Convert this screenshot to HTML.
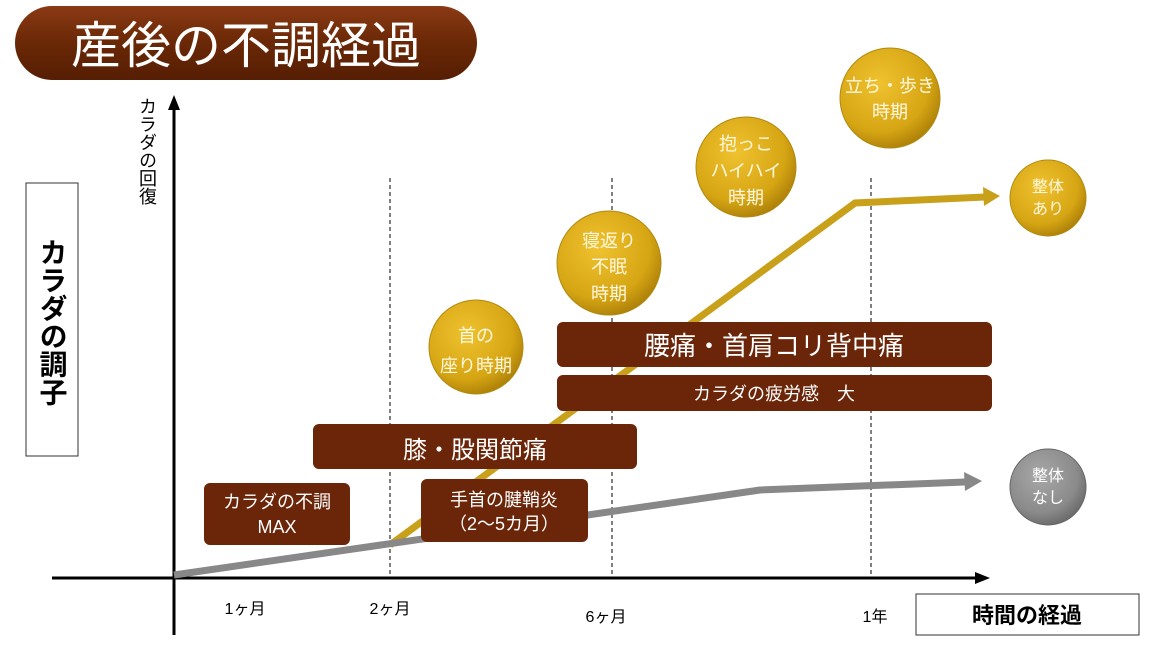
<!DOCTYPE html>
<html><head><meta charset="utf-8"><style>
body{margin:0;background:#fff}
svg text{font-family:"Liberation Sans","Noto Sans CJK JP",sans-serif}
</style></head><body>
<svg width="1152" height="648" viewBox="0 0 1152 648" xmlns="http://www.w3.org/2000/svg">
<defs>
<radialGradient id="g" cx="40%" cy="35%" r="70%"><stop offset="0" stop-color="#f0c230"/><stop offset="0.7" stop-color="#d6a513"/><stop offset="1" stop-color="#a87c08"/></radialGradient>
<radialGradient id="gr" cx="40%" cy="35%" r="70%"><stop offset="0" stop-color="#a8a8a8"/><stop offset="0.7" stop-color="#8a8a8a"/><stop offset="1" stop-color="#666"/></radialGradient>
<linearGradient id="t" x1="0" y1="0" x2="0" y2="1"><stop offset="0" stop-color="#8a3a14"/><stop offset="0.5" stop-color="#6a2806"/><stop offset="1" stop-color="#561e04"/></linearGradient>
</defs>
<rect x="15" y="6" width="462" height="74" rx="37" fill="url(#t)"/>
<text x="246" y="63" font-size="50" fill="#fff" text-anchor="middle">産後の不調経過</text>

<rect x="26" y="183" width="52" height="273" fill="#fff" stroke="#333"/>
<text x="52" y="238" font-size="28" font-weight="bold" style="writing-mode:vertical-rl" fill="#000">カラダの調子</text>
<text x="147" y="97" font-size="18" style="writing-mode:vertical-rl" fill="#000">カラダの回復</text>

<g stroke="#000" stroke-dasharray="4,3" stroke-width="1">
<line x1="390" y1="178" x2="390" y2="578"/><line x1="612" y1="178" x2="612" y2="578"/><line x1="871" y1="178" x2="871" y2="578"/>
</g>
<line x1="174" y1="108" x2="174" y2="635" stroke="#000" stroke-width="3"/>
<polygon points="174,95 168,110 180,110" fill="#000"/>
<line x1="52" y1="578" x2="975" y2="578" stroke="#000" stroke-width="3"/>
<polygon points="990,578 975,572 975,584" fill="#000"/>

<polyline points="390,545 855,203 985,197" fill="none" stroke="#c9a01a" stroke-width="7"/>
<polygon points="1000,196 983,187 984,206" fill="#c9a01a"/>
<polyline points="174,575 760,490 965,482" fill="none" stroke="#888" stroke-width="7"/>
<polygon points="982,481 964,472 965,491" fill="#888"/>

<g fill="#6b2508">
<rect x="204" y="483" width="146" height="62" rx="6"/>
<rect x="313" y="424" width="324" height="45" rx="6"/>
<rect x="421" y="479" width="167" height="63" rx="6"/>
<rect x="557" y="322" width="435" height="45" rx="6"/>
<rect x="557" y="375" width="435" height="36" rx="6"/>
</g>
<g fill="#fff" text-anchor="middle">
<text x="277" y="508" font-size="18">カラダの不調</text>
<text x="277" y="533" font-size="18">MAX</text>
<text x="475" y="458" font-size="24">膝・股関節痛</text>
<text x="504" y="506" font-size="18">手首の腱鞘炎</text>
<text x="504" y="530" font-size="18">（2～5カ月）</text>
<text x="774" y="355" font-size="26">腰痛・首肩コリ背中痛</text>
<text x="774" y="400" font-size="18">カラダの疲労感　大</text>
</g>

<g stroke="#b08a10" stroke-width="1">
<circle cx="476" cy="347" r="47" fill="url(#g)"/>
<circle cx="609" cy="263" r="52" fill="url(#g)"/>
<circle cx="746" cy="167" r="50" fill="url(#g)"/>
<circle cx="890" cy="98" r="50" fill="url(#g)"/>
<circle cx="1048" cy="198" r="38" fill="url(#g)"/>
<circle cx="1048" cy="487" r="38" fill="url(#gr)" stroke="#666"/>
</g>
<g fill="#fff8e0" text-anchor="middle" font-size="18">
<text x="476" y="342">首の</text><text x="476" y="372">座り時期</text>
<text x="609" y="247">寝返り</text><text x="609" y="273">不眠</text><text x="609" y="300">時期</text>
<text x="746" y="150">抱っこ</text><text x="746" y="177">ハイハイ</text><text x="746" y="204">時期</text>
<text x="890" y="92">立ち・歩き</text><text x="890" y="118">時期</text>
<text x="1048" y="192" font-size="16">整体</text><text x="1048" y="214" font-size="16">あり</text>
<text x="1048" y="481" font-size="16" fill="#fff">整体</text><text x="1048" y="503" font-size="16" fill="#fff">なし</text>
</g>

<g font-size="16" fill="#000" text-anchor="middle">
<text x="245" y="614">1ヶ月</text>
<text x="390" y="614">2ヶ月</text>
<text x="606" y="622">6ヶ月</text>
<text x="875" y="622">1年</text>
</g>
<rect x="916" y="594" width="223" height="41" fill="#fff" stroke="#333"/>
<text x="1027" y="623" font-size="22" font-weight="bold" text-anchor="middle" fill="#000">時間の経過</text>
</svg>
</body></html>
